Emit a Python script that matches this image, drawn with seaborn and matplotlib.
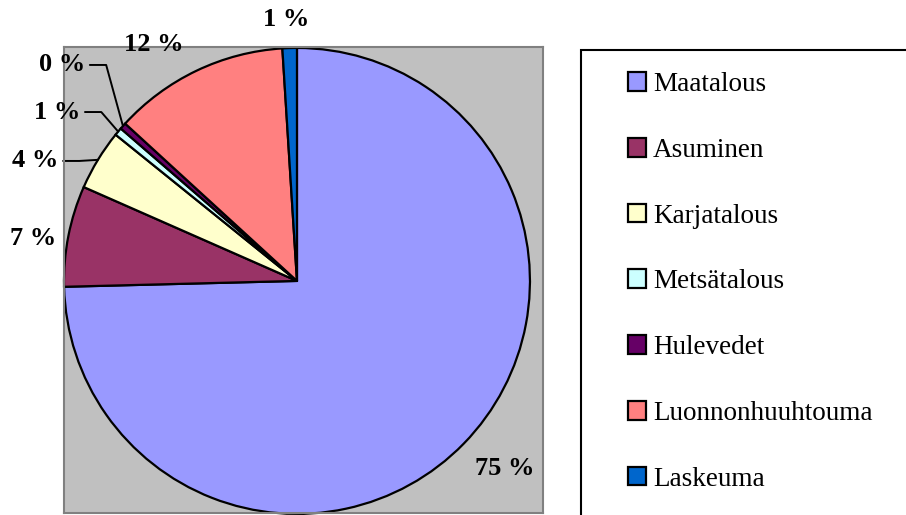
import seaborn as sns
import matplotlib.pyplot as plt
from matplotlib.patches import Rectangle
import numpy as np

# Data
categories = ["Maatalous", "Asuminen", "Karjatalous", "Metsätalous",
              "Hulevedet", "Luonnonhuuhtouma", "Laskeuma"]
shares = [74.6, 7.0, 4.2, 0.55, 0.45, 12.2, 1.0]
pct_labels = ["75 %", "7 %", "4 %", "1 %", "0 %", "12 %", "1 %"]

colors = ["#9999FF", "#993366", "#FFFFCC", "#CCFFFF", "#660066", "#FF8080", "#0066CC"]

# where the percentage labels sit (pie data units) and which get leader lines
label_pos = {
    "Maatalous": (0.893, -0.803),
    "Asuminen": (-1.133, 0.18),
    "Karjatalous": (-1.124, 0.515),
    "Metsätalous": (-1.03, 0.725),
    "Hulevedet": (-1.009, 0.927),
    "Luonnonhuuhtouma": (-0.614, 1.013),
    "Laskeuma": (-0.047, 1.124),
}
leaders = ["Karjatalous", "Metsätalous", "Hulevedet"]

sns.set_style("white")
plt.rcParams["font.family"] = ["Liberation Serif", "DejaVu Serif"]
plt.rcParams["text.color"] = "black"
palette = sns.color_palette(colors)

fig = plt.figure(figsize=(9.06, 5.15), dpi=100)
ax = fig.add_axes([64 / 906, 2 / 515, 479 / 906, 466 / 515])

wedges, _ = ax.pie(shares, colors=palette, startangle=90, counterclock=False,
                   radius=1, center=(0, 0),
                   wedgeprops=dict(edgecolor="black", linewidth=1.6))
ax.set_frame_on(True)
ax.set_facecolor("#C0C0C0")
for sp in ax.spines.values():
    sp.set_color("#808080")
    sp.set_linewidth(1.5)
ax.set_xlim(-1.0, 1.056)
ax.set_ylim(-0.996, 1.004)
ax.set_xticks([])
ax.set_yticks([])

for w, cat, lab in zip(wedges, categories, pct_labels):
    lx, ly = label_pos[cat]
    ax.text(lx, ly, lab, ha="center", va="center", fontsize=19,
            fontweight="bold", color="black")
    if cat in leaders:
        mid = np.deg2rad((w.theta1 + w.theta2) / 2)
        ex, ey = np.cos(mid), np.sin(mid)
        ax.plot([lx + 0.12, lx + 0.19, ex], [ly, ly, ey], color="black",
                linewidth=1.4, clip_on=False)

# legend box
fig.add_artist(Rectangle((581 / 906, -0.1), 1, 1 - 50 / 515 + 0.1,
                         transform=fig.transFigure, facecolor="white",
                         edgecolor="black", linewidth=1.5, zorder=0))
fig.legend(wedges, categories, loc="upper left",
           bbox_to_anchor=(628 / 906, 1 - 72 / 515), frameon=False,
           fontsize=19.5, handlelength=0.68, handleheight=0.68,
           handletextpad=0.25, labelspacing=1.505, borderpad=0,
           borderaxespad=0, labelcolor="black")

plt.savefig("out.png", dpi=100)
